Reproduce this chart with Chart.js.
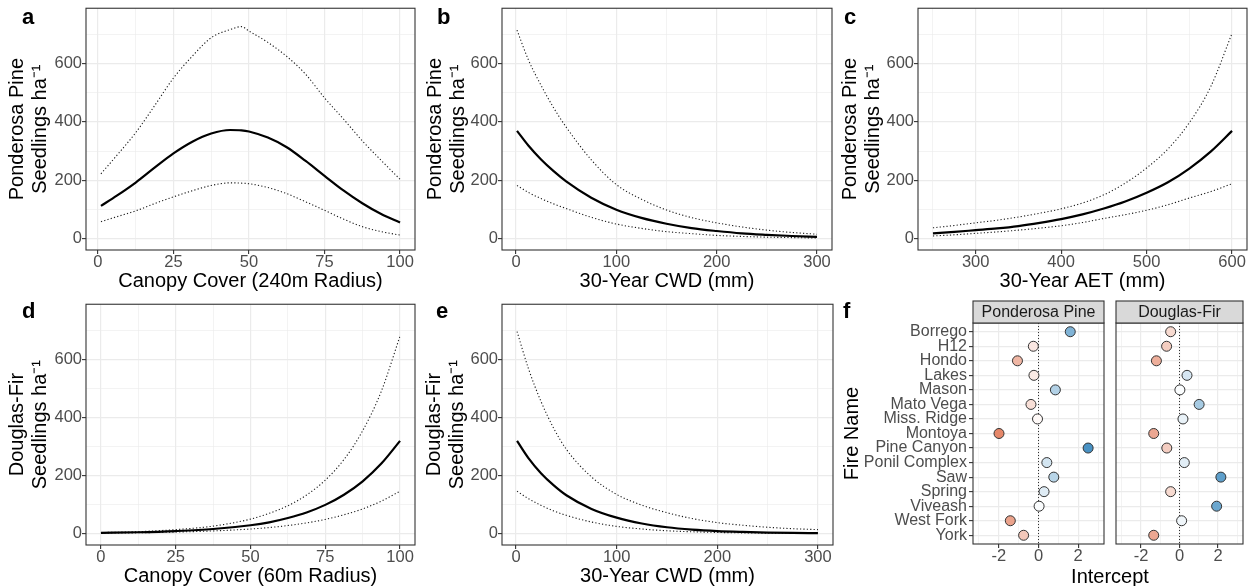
<!DOCTYPE html>
<html>
<head>
<meta charset="utf-8">
<title>Seedling density responses</title>
<script src="https://cdn.jsdelivr.net/npm/chart.js@4.4.1/dist/chart.umd.min.js"></script>
<style>
	body { margin: 0; background: #fff; }
	#fig { position: relative; width: 1249px; height: 586px; overflow: hidden; font-family: 'Liberation Sans', Arial, Helvetica, sans-serif; }
	#fig canvas { position: absolute; }
	.tag { position: absolute; font-size: 22px; line-height: 22px; font-weight: bold; color: #000; }
	.xtitle { position: absolute; width: 200px; text-align: center; font-size: 20px; line-height: 20px; color: #000; }
</style>
</head>
<body>
<div id="fig">
	<canvas id="panelA" width="420" height="296" style="left:0px;top:0px"></canvas>
	<canvas id="panelB" width="415" height="296" style="left:420px;top:0px"></canvas>
	<canvas id="panelC" width="414" height="296" style="left:835px;top:0px"></canvas>
	<canvas id="panelD" width="420" height="290" style="left:0px;top:296px"></canvas>
	<canvas id="panelE" width="415" height="290" style="left:420px;top:296px"></canvas>
	<canvas id="panelF1" width="275" height="290" style="left:835px;top:296px"></canvas>
	<canvas id="panelF2" width="139" height="290" style="left:1110px;top:296px"></canvas>
	<div class="tag" style="left:22px;top:6px">a</div>
	<div class="tag" style="left:437px;top:6px">b</div>
	<div class="tag" style="left:844px;top:6px">c</div>
	<div class="tag" style="left:22px;top:300px">d</div>
	<div class="tag" style="left:436px;top:300px">e</div>
	<div class="tag" style="left:843px;top:300px">f</div>
	<div class="xtitle" style="left:1010px;top:566px">Intercept</div>
</div>
<script>
// Canopy cover within 240 m, ponderosa pine (fit + interval)
const canopy240 = [1, 6.25, 12.5, 18.75, 25, 31.25, 37.5, 43.75, 47.5, 50, 56.25, 62.5, 68.75, 75, 81.25, 87.5, 93.75, 100];
const ppCanopyFit = [112, 147, 192, 243, 292, 332, 360, 372, 371, 367, 346, 313, 266, 215, 165, 121, 84, 55];
const ppCanopyLow = [58, 75, 95, 120, 143, 164, 182, 191, 190, 188, 175, 154, 126, 97, 67, 41, 24, 12];
const ppCanopyHigh = [222, 285, 363, 455, 550, 625, 688, 716, 726, 711, 672, 624, 563, 482, 410, 335, 268, 203];

// 30-year climatic water deficit
const cwd = [1, 12.5, 25, 37.5, 50, 75, 100, 125, 150, 175, 200, 225, 250, 275, 300];
const ppCwdFit = [369, 318, 271, 231, 196, 140, 99, 71, 51, 36, 26, 18, 13, 9, 6];
const ppCwdLow = [182, 158, 137, 119, 103, 73, 50, 35, 24, 17, 11, 7.5, 5, 3.5, 2];
const ppCwdHigh = [714, 611, 525, 448, 382, 270, 185, 135, 98, 72, 54, 40, 29, 21, 15];

// 30-year actual evapotranspiration
const aet = [250, 275, 300, 325, 350, 375, 400, 425, 450, 475, 500, 525, 550, 575, 600];
const ppAetFit = [18, 23, 29, 35, 43, 54, 67, 83, 103, 127, 157, 193, 240, 298, 369];
const ppAetLow = [9, 13, 18, 23, 29, 36, 44, 55, 69, 82, 97, 116, 139, 161, 188];
const ppAetHigh = [37, 45, 54, 63, 74, 87, 102, 122, 150, 190, 242, 307, 397, 520, 703];

// Canopy cover within 60 m, Douglas-fir
const canopy60 = [0, 12.5, 25, 37.5, 50, 56.25, 62.5, 68.75, 75, 81.25, 87.5, 93.75, 100];
const dfCanopyFit = [2.6, 4.8, 9, 16, 29, 39, 54, 73, 99, 134, 180, 241, 319];
const dfCanopyLow = [1.8, 3, 5.5, 9.4, 16, 21, 28, 37, 49, 65, 85, 112, 146];
const dfCanopyHigh = [3.7, 7, 14, 26, 50, 70, 96, 133, 184, 255, 354, 490, 680];

// Douglas-fir vs CWD (same x values as cwd)
const dfCwdFit = [319, 259, 207, 166, 132, 85, 55, 35, 22, 14, 9, 6, 3.8, 2.4, 1.5];
const dfCwdLow = [146, 120, 97, 78, 63, 40, 25, 16, 10, 6.5, 4.2, 2.7, 1.8, 1.2, 0.8];
const dfCwdHigh = [695, 566, 453, 362, 290, 195, 135, 98, 72, 52, 38, 29, 22, 17, 14];

// Random intercepts by fire
const fireNames = ['Borrego', 'H12', 'Hondo', 'Lakes', 'Mason', 'Mato Vega', 'Miss. Ridge', 'Montoya', 'Pine Canyon', 'Ponil Complex', 'Saw', 'Spring', 'Viveash', 'West Fork', 'York'];
const ppIntercept = [1.6, -0.26, -1.06, -0.23, 0.85, -0.38, -0.05, -1.99, 2.5, 0.42, 0.77, 0.28, 0.03, -1.42, -0.75];
const dfIntercept = [-0.46, -0.67, -1.2, 0.39, 0.02, 1.02, 0.18, -1.34, -0.66, 0.25, 2.15, -0.46, 1.93, 0.11, -1.34];

// Axis ticks
const seedlingTicks = [0, 100, 200, 300, 400, 500, 600, 700];
const seedlingMajor = [0, 200, 400, 600];
const canopyTicks = [0, 12.5, 25, 37.5, 50, 62.5, 75, 87.5, 100];
const canopyMajor = [0, 25, 50, 75, 100];
const cwdTicks = [0, 50, 100, 150, 200, 250, 300];
const cwdMajor = [0, 100, 200, 300];
const aetTicks = [250, 300, 350, 400, 450, 500, 550, 600];
const aetMajor = [300, 400, 500, 600];
const interceptTicks = [-3, -2, -1, 0, 1, 2, 3];
const interceptMajor = [-2, 0, 2];

Chart.defaults.font.family = "'Liberation Sans', Arial, Helvetica, sans-serif";
Chart.defaults.animation = false;
Chart.defaults.plugins.legend.display = false;
Chart.defaults.plugins.tooltip.enabled = false;

// box around each plotting region
const panelBorder = {
	id: 'panelBorder',
	afterDraw(chart) {
		const { ctx, chartArea: a } = chart;
		ctx.save();
		ctx.strokeStyle = '#333333';
		ctx.lineWidth = 1.1;
		ctx.strokeRect(a.left, a.top, a.right - a.left, a.bottom - a.top);
		ctx.restore();
	},
};

// grey facet label above the plotting region
const facetStrip = {
	id: 'facetStrip',
	afterDraw(chart, args, opts) {
		if (!opts.text) return;
		const { ctx, chartArea: a } = chart;
		const h = 22;
		ctx.save();
		ctx.fillStyle = '#d9d9d9';
		ctx.fillRect(a.left, a.top - h, a.right - a.left, h);
		ctx.strokeStyle = '#333333';
		ctx.lineWidth = 1.1;
		ctx.strokeRect(a.left, a.top - h, a.right - a.left, h);
		ctx.fillStyle = '#1a1a1a';
		ctx.font = "16px 'Liberation Sans', Arial, sans-serif";
		ctx.textAlign = 'center';
		ctx.textBaseline = 'middle';
		ctx.fillText(opts.text, (a.left + a.right) / 2, a.top - h / 2 + 1);
		ctx.restore();
	},
};

function axis(o) {
	const isMajor = v => o.majors.includes(v);
	const showTicks = o.showTicks !== false;
	return {
		type: 'linear',
		min: o.min,
		max: o.max,
		reverse: !!o.reverse,
		afterBuildTicks: s => {
			s.ticks = o.ticks.map(v => ({ value: v }));
		},
		afterFit: s => {
			if (s.isHorizontal()) s.height = o.size;
			else s.width = o.size;
		},
		border: { display: false },
		grid: {
			color: '#ebebeb',
			lineWidth: c => (c.tick && isMajor(c.tick.value) ? 1.2 : 0.6),
			drawTicks: showTicks,
			tickLength: 4,
			tickWidth: 1.1,
			tickColor: c => (c.tick && isMajor(c.tick.value) ? '#333333' : 'rgba(0,0,0,0)'),
		},
		ticks: {
			display: showTicks,
			autoSkip: false,
			maxRotation: 0,
			minRotation: 0,
			padding: o.tickPad || 0,
			color: '#4d4d4d',
			font: { size: o.tickSize || 16.5, lineHeight: 1 },
			callback: v => (o.label ? o.label(v) : isMajor(v) ? String(v) : ''),
		},
		title: o.title
			? {
					display: true,
					text: o.title,
					color: '#000',
					font: { size: 20, lineHeight: o.titleLH || 1 },
					padding: o.titlePad,
			  }
			: { display: false },
	};
}

function curvePanel(id, p) {
	const pts = ys => p.x.map((x, i) => ({ x: x, y: ys[i] }));
	const dotted = { borderColor: '#1a1a1a', borderWidth: 1.1, borderDash: [1.2, 2.2] };
	return new Chart(document.getElementById(id), {
		type: 'line',
		data: {
			datasets: [
				{ data: pts(p.fit), borderColor: '#000', borderWidth: 2.2 },
				Object.assign({ data: pts(p.low) }, dotted),
				Object.assign({ data: pts(p.high) }, dotted),
			],
		},
		options: {
			responsive: false,
			layout: { padding: p.pad },
			elements: {
				point: { radius: 0 },
				line: { cubicInterpolationMode: 'monotone' },
			},
			scales: {
				x: axis({
					min: p.xMin, max: p.xMax, ticks: p.xTicks, majors: p.xMajor,
					size: p.xSize, title: p.xTitle, titlePad: { top: 0, bottom: p.xTitlePad },
				}),
				y: axis({
					min: -39, max: 789, ticks: seedlingTicks, majors: seedlingMajor,
					size: p.ySize, title: p.yTitle, titleLH: 1.15, titlePad: { top: p.yTitlePad, bottom: 0 },
				}),
			},
		},
		plugins: [panelBorder],
	});
}

const ppTitle = ['Ponderosa Pine', 'Seedlings ha\u207B\u00B9'];
const dfTitle = ['Douglas-Fir', 'Seedlings ha\u207B\u00B9'];

const chartA = curvePanel('panelA', {
	x: canopy240, fit: ppCanopyFit, low: ppCanopyLow, high: ppCanopyHigh,
	xMin: -3.95, xMax: 104.95, xTicks: canopyTicks, xMajor: canopyMajor,
	xTitle: 'Canopy Cover (240m Radius)', xSize: 46, xTitlePad: 5,
	yTitle: ppTitle, ySize: 86, yTitlePad: 6,
	pad: { left: 0, top: 6, right: 5, bottom: 0 },
});

const chartB = curvePanel('panelB', {
	x: cwd, fit: ppCwdFit, low: ppCwdLow, high: ppCwdHigh,
	xMin: -13.95, xMax: 314.95, xTicks: cwdTicks, xMajor: cwdMajor,
	xTitle: '30-Year CWD (mm)', xSize: 46, xTitlePad: 5,
	yTitle: ppTitle, ySize: 82, yTitlePad: 4,
	pad: { left: 0, top: 6, right: 3, bottom: 0 },
});

const chartC = curvePanel('panelC', {
	x: aet, fit: ppAetFit, low: ppAetLow, high: ppAetHigh,
	xMin: 232.5, xMax: 617.5, xTicks: aetTicks, xMajor: aetMajor,
	xTitle: '30-Year AET (mm)', xSize: 46, xTitlePad: 5,
	yTitle: ppTitle, ySize: 83, yTitlePad: 4,
	pad: { left: 0, top: 6, right: 2, bottom: 0 },
});

const chartD = curvePanel('panelD', {
	x: canopy60, fit: dfCanopyFit, low: dfCanopyLow, high: dfCanopyHigh,
	xMin: -5, xMax: 105, xTicks: canopyTicks, xMajor: canopyMajor,
	xTitle: 'Canopy Cover (60m Radius)', xSize: 41, xTitlePad: 0,
	yTitle: dfTitle, ySize: 86, yTitlePad: 6,
	pad: { left: 0, top: 5, right: 5, bottom: 0 },
});

const chartE = curvePanel('panelE', {
	x: cwd, fit: dfCwdFit, low: dfCwdLow, high: dfCwdHigh,
	xMin: -13.95, xMax: 314.95, xTicks: cwdTicks, xMajor: cwdMajor,
	xTitle: '30-Year CWD (mm)', xSize: 41, xTitlePad: 0,
	yTitle: dfTitle, ySize: 82, yTitlePad: 3,
	pad: { left: 0, top: 5, right: 2, bottom: 0 },
});

// diverging fill: red below zero, white at zero, blue above
function interceptFill(v) {
	const t = Math.pow(Math.min(Math.abs(v) / 2.6, 1), 0.8);
	const end = v < 0 ? [223, 106, 69] : [67, 143, 194];
	const c = end.map(e => Math.round(255 + (e - 255) * t));
	return 'rgb(' + c.join(',') + ')';
}

function facetPanel(id, values, strip, first) {
	const rows = fireNames.map((n, i) => i + 1);
	return new Chart(document.getElementById(id), {
		type: 'scatter',
		data: {
			datasets: [
				{
					data: values.map((v, i) => ({ x: v, y: rows[i] })),
					backgroundColor: values.map(interceptFill),
					borderColor: '#333333',
					borderWidth: 1,
					pointRadius: 5,
				},
				{
					data: [{ x: 0, y: 0.4 }, { x: 0, y: 15.6 }],
					showLine: true,
					pointRadius: 0,
					borderColor: '#1a1a1a',
					borderWidth: 0.9,
					borderDash: [1, 2],
				},
			],
		},
		options: {
			responsive: false,
			layout: { padding: first ? { left: 0, top: 27, right: 3, bottom: 0 } : { left: 3, top: 27, right: 2, bottom: 0 } },
			scales: {
				x: axis({
					min: -3.3, max: 3.3, ticks: interceptTicks, majors: interceptMajor, size: 42,
				}),
				y: axis({
					min: 0.4, max: 15.6, reverse: true, ticks: rows, majors: rows,
					size: first ? 138 : 0, showTicks: first, tickPad: 2, tickSize: 16,
					label: v => fireNames[v - 1] || '',
					title: first ? 'Fire Name' : null, titlePad: { top: 7, bottom: 0 },
				}),
			},
			plugins: { facetStrip: { text: strip } },
		},
		plugins: [panelBorder, facetStrip],
	});
}

const chartF1 = facetPanel('panelF1', ppIntercept, 'Ponderosa Pine', true);
const chartF2 = facetPanel('panelF2', dfIntercept, 'Douglas-Fir', false);
</script>
</body>
</html>
